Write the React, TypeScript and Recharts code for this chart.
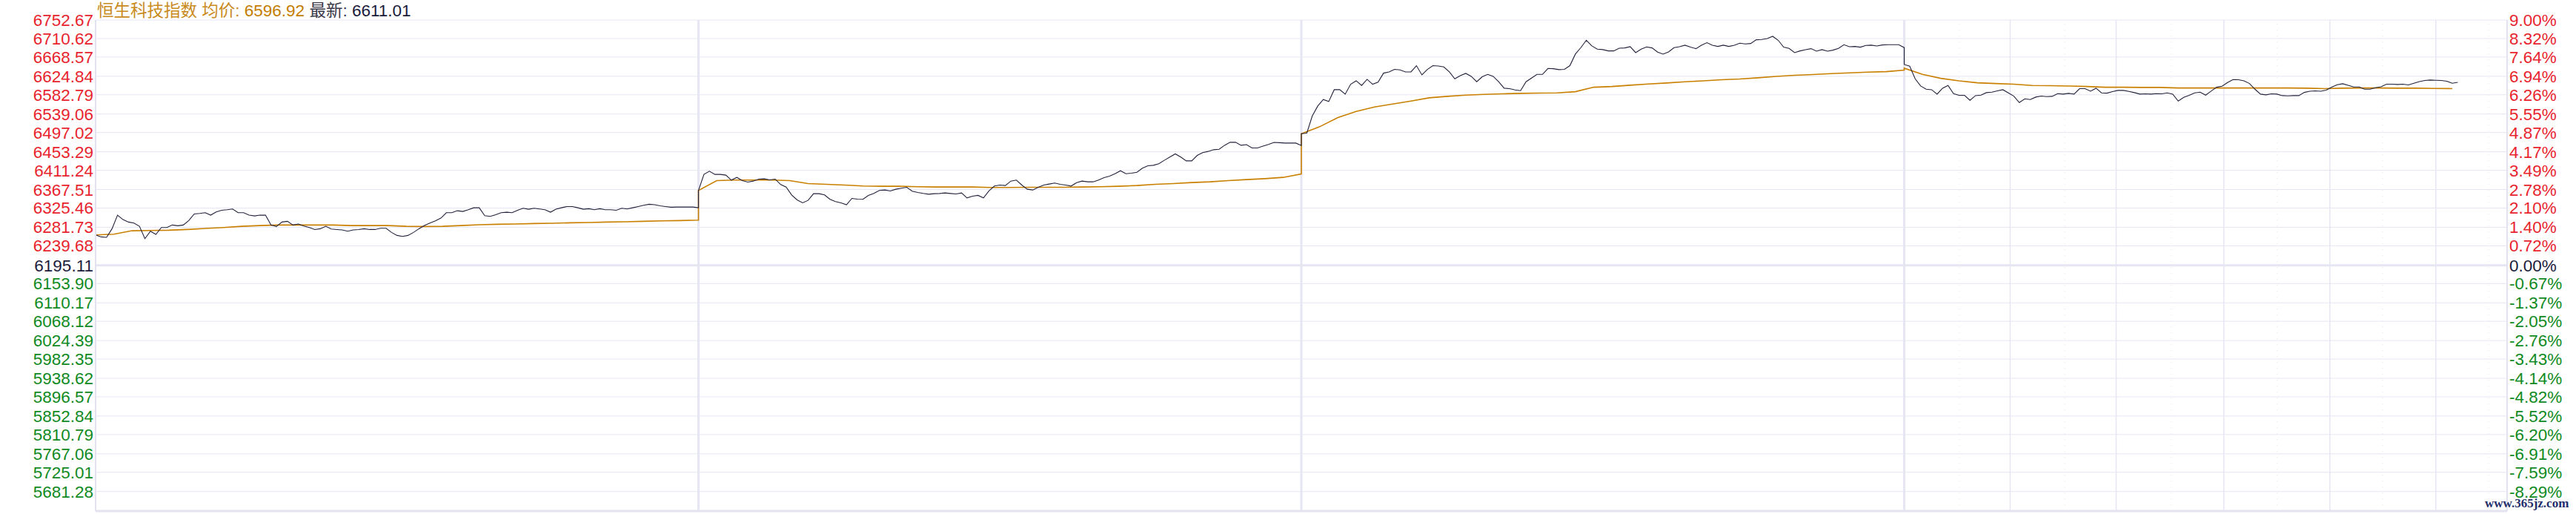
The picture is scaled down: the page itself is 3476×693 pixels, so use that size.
import React from 'react';
import { LineChart, Line, XAxis, YAxis, CartesianGrid, ReferenceLine } from 'recharts';

const indexName = '恒生科技指数';
const avgPrice = 6596.92;
const lastPrice = 6611.01;
const prevClose = 6195.11;
const watermark = 'www.365jz.com';

const leftLabels = [
  '6752.67', '6710.62', '6668.57', '6624.84', '6582.79', '6539.06', '6497.02', '6453.29', '6411.24',
  '6367.51', '6325.46', '6281.73', '6239.68', '6195.11', '6153.90', '6110.17', '6068.12', '6024.39',
  '5982.35', '5938.62', '5896.57', '5852.84', '5810.79', '5767.06', '5725.01', '5681.28',
];
const rightLabels = [
  '9.00%', '8.32%', '7.64%', '6.94%', '6.26%', '5.55%', '4.87%', '4.17%', '3.49%', '2.78%', '2.10%',
  '1.40%', '0.72%', '0.00%', '-0.67%', '-1.37%', '-2.05%', '-2.76%', '-3.43%', '-4.14%', '-4.82%',
  '-5.52%', '-6.20%', '-6.91%', '-7.59%', '-8.29%',
];
const yMax = 6752.67;
const yMin = 5637;

// minutes inside the last session where the chart draws its time lines
const day4Grid = [58, 116, 175, 233, 291];
const day4Dots = [30, 88, 146, 204, 262, 320];

// price, one value every 3 minutes
const day1Price = [
  6264.4, 6259.9, 6258.8, 6278.4, 6309.3, 6299.2, 6293.6, 6291.3, 6284.0, 6256.0,
  6272.8, 6265.5, 6281.3, 6281.3, 6286.9, 6285.2, 6286.9, 6297.0, 6312.1, 6313.2,
  6314.9, 6309.3, 6316.6, 6320.5, 6321.7, 6323.3, 6314.9, 6314.9, 6309.3, 6307.6,
  6309.3, 6309.3, 6286.9, 6283.5, 6293.6, 6295.3, 6286.9, 6289.1, 6284.6, 6281.3,
  6276.7, 6278.4, 6284.0, 6277.9, 6276.7, 6275.6, 6272.8, 6275.6, 6276.7, 6278.4,
  6276.7, 6276.7, 6279.6, 6279.6, 6270.0, 6263.3, 6261.0, 6263.3, 6270.0, 6278.4,
  6285.7, 6291.3, 6296.4, 6302.6, 6314.9, 6314.9, 6319.4, 6317.7, 6321.7, 6326.1,
  6326.1, 6308.2, 6306.5, 6310.4, 6314.9, 6316.0, 6314.9, 6320.5, 6325.0, 6322.8,
  6325.0, 6323.3, 6321.7, 6316.0, 6322.8, 6326.1, 6328.9, 6328.9, 6326.1, 6322.8,
  6323.9, 6321.7, 6323.9, 6321.7, 6321.7, 6320.5, 6325.0, 6323.3, 6326.1, 6328.9,
  6331.8, 6334.0, 6332.9, 6330.6, 6328.9, 6327.3, 6327.8, 6327.8, 6327.8, 6327.8,
  6326.1,
];
const day2Price = [
  6365.4, 6401.9, 6409.2, 6401.9, 6401.9, 6400.2, 6389.0, 6395.1, 6387.8, 6384.5,
  6386.7, 6391.2, 6391.8, 6389.5, 6391.2, 6378.8, 6373.2, 6355.3, 6344.0, 6337.3,
  6342.9, 6358.1, 6358.1, 6355.3, 6345.2, 6340.1, 6337.3, 6332.8, 6347.4, 6345.7,
  6345.2, 6354.2, 6358.6, 6365.4, 6366.5, 6364.3, 6368.2, 6370.4, 6372.7, 6363.7,
  6360.9, 6358.6, 6356.9, 6358.1, 6358.6, 6359.8, 6358.6, 6357.5, 6359.8, 6348.5,
  6352.5, 6354.2, 6348.5, 6364.3, 6375.5, 6377.7, 6376.6, 6386.7, 6389.0, 6377.7,
  6368.2, 6366.5, 6372.7, 6377.7, 6380.0, 6382.2, 6379.4, 6377.7, 6375.5, 6383.3,
  6386.7, 6385.0, 6385.0, 6389.0, 6394.6, 6397.9, 6403.5, 6410.3, 6403.5, 6404.7,
  6406.9, 6415.9, 6421.5, 6422.6, 6426.0, 6433.9, 6441.2, 6448.5, 6441.2, 6432.7,
  6432.7, 6445.1, 6451.3, 6454.1, 6458.0, 6459.1, 6468.0, 6474.8, 6475.0, 6468.0,
  6469.5, 6462.0, 6462.0, 6466.0, 6470.0, 6474.5, 6474.0, 6473.1, 6473.1, 6473.1,
  6467.5,
];
const day3Price = [
  6494.5, 6495.6, 6534.9, 6557.4, 6572.0, 6567.5, 6594.4, 6594.4, 6584.3, 6606.8,
  6614.6, 6604.0, 6618.0, 6606.8, 6611.3, 6632.0, 6634.8, 6640.5, 6639.3, 6634.8,
  6634.8, 6648.9, 6628.1, 6640.5, 6648.9, 6648.3, 6646.1, 6634.8, 6619.1, 6626.4,
  6631.5, 6624.7, 6612.4, 6623.6, 6629.2, 6624.7, 6612.4, 6597.8, 6596.7, 6593.9,
  6592.2, 6612.4, 6620.8, 6629.2, 6629.2, 6642.7, 6642.1, 6639.9, 6640.5, 6648.9,
  6675.3, 6689.9, 6706.7, 6693.8, 6686.5, 6685.4, 6682.5, 6682.5, 6688.7, 6689.3,
  6692.1, 6678.6, 6686.5, 6691.5, 6689.3, 6679.7, 6675.3, 6680.3, 6689.9, 6692.1,
  6695.5, 6691.0, 6687.6, 6695.5, 6701.1, 6695.5, 6692.7, 6695.5, 6692.7, 6695.5,
  6699.9, 6698.3, 6699.4, 6707.8, 6708.4, 6710.6, 6715.7, 6706.7, 6691.0, 6688.2,
  6678.6, 6682.5, 6685.4, 6687.6, 6682.0, 6685.4, 6682.0, 6684.2, 6688.2, 6696.6,
  6692.1, 6692.7, 6691.0, 6694.9, 6695.5, 6693.8, 6696.0, 6696.6, 6696.6, 6696.6,
  6690.0,
];
const day4Price = [
  6651.7, 6647.7, 6619.1, 6602.8, 6595.5, 6594.4, 6584.3, 6597.8, 6603.9, 6585.4,
  6581.5, 6581.5, 6570.3, 6580.9, 6582.0, 6587.7, 6588.8, 6591.6, 6594.4, 6587.1,
  6579.8, 6565.2, 6573.6, 6571.9, 6577.6, 6579.8, 6578.7, 6579.3, 6585.4, 6584.3,
  6586.0, 6584.3, 6596.7, 6596.7, 6591.0, 6597.8, 6587.1, 6586.5, 6589.9, 6592.7,
  6592.7, 6590.5, 6587.7, 6584.3, 6584.9, 6584.3, 6585.4, 6584.9, 6587.1, 6584.3,
  6568.6, 6577.0, 6581.5, 6587.1, 6588.8, 6582.0, 6591.0, 6600.0, 6602.3, 6610.7,
  6617.4, 6616.9, 6614.6, 6608.4, 6595.5, 6584.3, 6582.6, 6584.9, 6584.3, 6580.9,
  6580.4, 6580.9, 6580.9, 6588.2, 6591.0, 6591.6, 6591.0, 6593.3, 6600.0, 6605.6,
  6607.9, 6604.5, 6600.6, 6600.6, 6595.5, 6595.5, 6598.9, 6601.1, 6606.8, 6606.8,
  6606.2, 6606.8, 6605.1, 6609.0, 6612.9, 6615.2, 6616.3, 6615.7, 6615.2, 6613.5,
  6609.0, 6611.0,
];

// average price, one value every 10 minutes
const day1Avg = [
  6264.4, 6266.1, 6273.9, 6274.5, 6275.1, 6276.7, 6279.0, 6281.2, 6284.0, 6285.7,
  6286.9, 6286.9, 6286.9, 6286.9, 6285.7, 6285.7, 6285.7, 6284.0, 6283.5, 6284.0,
  6285.7, 6287.4, 6288.5, 6289.1, 6290.2, 6290.8, 6291.9, 6292.5, 6293.6, 6294.2,
  6295.3, 6296.4, 6297.0, 6298.1,
];
const day2Avg = [
  6365.4, 6387.8, 6389.0, 6389.0, 6389.0, 6387.8, 6381.1, 6379.4, 6377.7, 6375.5,
  6374.9, 6374.9, 6373.8, 6373.2, 6373.2, 6373.2, 6372.1, 6372.1, 6372.7, 6372.7,
  6372.7, 6373.2, 6373.8, 6374.9, 6376.6, 6379.4, 6381.1, 6383.3, 6385.0, 6387.8,
  6390.1, 6392.3, 6395.1, 6403.0,
];
const day3Avg = [
  6494.5, 6510.2, 6531.0, 6545.0, 6555.1, 6561.9, 6568.6, 6575.9, 6579.3, 6582.1,
  6583.8, 6584.9, 6586.0, 6586.6, 6587.1, 6589.9, 6600.0, 6601.7, 6604.5, 6607.3,
  6609.6, 6612.4, 6614.6, 6616.9, 6618.6, 6621.4, 6624.7, 6627.0, 6628.7, 6630.9,
  6632.6, 6634.3, 6635.4, 6638.8,
];
const day4Avg = [
  6643.3, 6629.2, 6620.2, 6614.6, 6610.1, 6608.4, 6606.8, 6603.9, 6603.4, 6602.8,
  6601.7, 6600.0, 6600.0, 6599.5, 6599.5, 6598.3, 6598.3, 6598.3, 6598.3, 6598.3,
  6598.3, 6598.3, 6597.8, 6596.7, 6597.8, 6598.3, 6598.3, 6597.8, 6597.8, 6597.2,
  6596.9,
];

const DAY = 330;
const PRICE_STEP = 3;
const AVG_STEP = 10;

const build = (days: number[][], step: number) =>
  days.flatMap((d, di) => d.map((v, i) => ({ t: di * DAY + i * step, v })));

const priceData = build([day1Price, day2Price, day3Price, day4Price], PRICE_STEP);
const avgData = build([day1Avg, day2Avg, day3Avg, day4Avg], AVG_STEP);

const yTicks = leftLabels.map(Number);
const dayLines = [DAY, DAY * 2, DAY * 3];

const GRID = '#e6e6f3';
const FONT = '"Liberation Sans", Arial, "Noto Sans CJK SC", sans-serif';

const tickColor = (v: number) =>
  v > prevClose + 0.001 ? '#e8242e' : v < prevClose - 0.001 ? '#108a22' : '#1c1c3c';

function LeftTick(props: any) {
  const { x, y, payload } = props;
  const v = payload.value as number;
  return (
    <text x={x} y={y} dy={8} textAnchor="end" fill={tickColor(v)} fontSize={22.5} fontFamily={FONT}>
      {v.toFixed(2)}
    </text>
  );
}

function RightTick(props: any) {
  const { x, y, payload } = props;
  const v = payload.value as number;
  const idx = yTicks.indexOf(v);
  return (
    <text x={x} y={y} dy={8} textAnchor="start" fill={tickColor(v)} fontSize={22.5} fontFamily={FONT}>
      {rightLabels[idx]}
    </text>
  );
}

export default function App() {
  return (
    <div style={{ position: 'relative', width: 3476, height: 693, background: '#fff' }}>
      <style>{'body{margin:0}'}</style>
      <LineChart width={3476} height={693} margin={{ top: 27, right: 0, bottom: 4, left: 0 }}>
        <CartesianGrid vertical={false} stroke={GRID} />
        <XAxis dataKey="t" type="number" domain={[0, DAY * 4]} hide allowDuplicatedCategory={false} />
        <YAxis
          type="number"
          domain={[yMin, yMax]}
          ticks={yTicks}
          interval={0}
          width={129}
          tickSize={0}
          tickMargin={3}
          tickLine={false}
          axisLine={{ stroke: '#e2e2f0', strokeWidth: 2 }}
          tick={<LeftTick />}
          allowDataOverflow
        />
        <YAxis
          yAxisId="right"
          orientation="right"
          type="number"
          domain={[yMin, yMax]}
          ticks={yTicks}
          interval={0}
          width={93}
          tickSize={0}
          tickMargin={3}
          tickLine={false}
          axisLine={{ stroke: '#e2e2f0', strokeWidth: 2 }}
          tick={<RightTick />}
          allowDataOverflow
        />
        <ReferenceLine y={prevClose} stroke={GRID} strokeWidth={3} />
        <ReferenceLine y={yMin} stroke="#e2e2f0" strokeWidth={3} />
        {dayLines.map((d) => (
          <ReferenceLine key={'d' + d} x={d} stroke={GRID} strokeWidth={3} />
        ))}
        {day4Grid.map((m) => (
          <ReferenceLine key={'g' + m} x={DAY * 3 + m} stroke={GRID} strokeWidth={1.5} />
        ))}
        {day4Dots.map((m) => (
          <ReferenceLine key={'p' + m} x={DAY * 3 + m} stroke="#e8e8ef" strokeWidth={1} strokeDasharray="1 7" />
        ))}
        <Line
          data={avgData}
          dataKey="v"
          type="linear"
          stroke="#c98000"
          strokeWidth={1.6}
          dot={false}
          activeDot={false}
          isAnimationActive={false}
        />
        <Line
          data={priceData}
          dataKey="v"
          type="linear"
          stroke="#22223c"
          strokeWidth={1.1}
          dot={false}
          activeDot={false}
          isAnimationActive={false}
        />
      </LineChart>
      <svg
        width={3476}
        height={693}
        style={{ position: 'absolute', left: 0, top: 0, pointerEvents: 'none' }}
      >
        <text x={131} y={22} fontSize={22.5} fontFamily={FONT}>
          <tspan fill="#c98a20">{indexName} 均价: </tspan>
          <tspan fill="#c47d00">{avgPrice.toFixed(2)}</tspan>
          <tspan fill="#3a3a4a"> 最新: </tspan>
          <tspan fill="#1a1a3c">{lastPrice.toFixed(2)}</tspan>
        </text>
        <text
          x={3353}
          y={684}
          fontSize={17}
          fontWeight="bold"
          fontFamily='"Liberation Serif", "DejaVu Serif", serif'
          fill="#1f2f6b"
        >
          {watermark}
        </text>
      </svg>
    </div>
  );
}
